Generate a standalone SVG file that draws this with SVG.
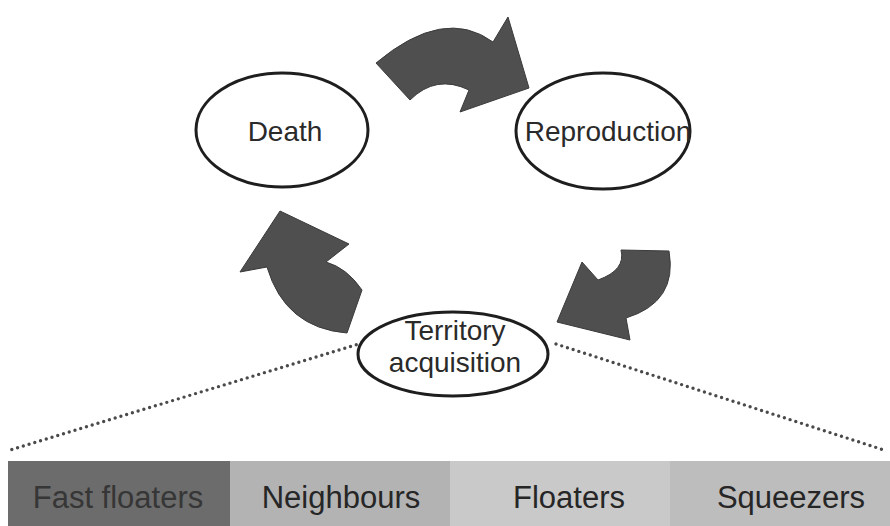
<svg xmlns="http://www.w3.org/2000/svg" width="890" height="526" viewBox="0 0 890 526">
  <defs>
    <style>
      .node ellipse { fill: #ffffff; stroke: #1e1e1e; stroke-width: 3; }
      .lbl { font-family: "Liberation Sans", Arial, sans-serif; font-size: 28px; fill: #2a2a2a; text-anchor: middle; }
      .bar { font-family: "Liberation Sans", Arial, sans-serif; font-size: 31px; fill: #262626; text-anchor: middle; }
      .arrow { fill: #4f4f4f; stroke: #3a3a3a; stroke-width: 1; filter: url(#soft); }
      .dots { fill: none; stroke: #4a4a4a; stroke-width: 3.4; stroke-linecap: round; stroke-dasharray: 0 6; }
    </style>
    <filter id="soft" x="-10%" y="-10%" width="120%" height="120%">
      <feGaussianBlur stdDeviation="0.7"/>
    </filter>
  </defs>
  <rect width="890" height="526" fill="#ffffff"/>

  <g id="connectors">
    <path class="arrow" d="M376,63 Q444,6 493,42 L508,17 L529,88 L460,112 L469,90 Q436,74 410,100 Z"/>
    <path class="arrow" d="M621,250 L669,251 Q678,302 626,318 L630,340 L557,322 L582,262 L598,280 Q626,270 621,250 Z"/>
    <path class="arrow" d="M280,211 L349,244 L326,262 Q347,268 362,290 L347,333 Q285,328 267,267 L240,272 Z"/>
    <path class="dots" d="M362,343 L10,450"/>
    <path class="dots" d="M556,344 L887,451"/>
  </g>

  <g id="node-death" class="node">
    <ellipse cx="282" cy="130" rx="86" ry="57"/>
    <text class="lbl" x="285" y="141">Death</text>
  </g>
  <g id="node-reproduction" class="node">
    <ellipse cx="603" cy="131" rx="87" ry="58"/>
    <text class="lbl" x="608" y="141">Reproduction</text>
  </g>
  <g id="node-territory" class="node">
    <ellipse cx="453" cy="354" rx="95" ry="42"/>
    <text class="lbl" x="455" y="340">Territory</text>
    <text class="lbl" x="455" y="372">acquisition</text>
  </g>

  <g id="node-fast-floaters">
    <rect x="8" y="461" width="222" height="65" fill="#6c6c6c"/>
    <text class="bar" x="118" y="508" style="fill:#363636">Fast floaters</text>
  </g>
  <g id="node-neighbours">
    <rect x="230" y="461" width="220" height="65" fill="#b3b3b3"/>
    <text class="bar" x="341" y="508">Neighbours</text>
  </g>
  <g id="node-floaters">
    <rect x="450" y="461" width="220" height="65" fill="#c9c9c9"/>
    <text class="bar" x="569" y="508">Floaters</text>
  </g>
  <g id="node-squeezers">
    <rect x="670" y="461" width="220" height="65" fill="#bdbdbd"/>
    <text class="bar" x="791" y="508">Squeezers</text>
  </g>
</svg>
